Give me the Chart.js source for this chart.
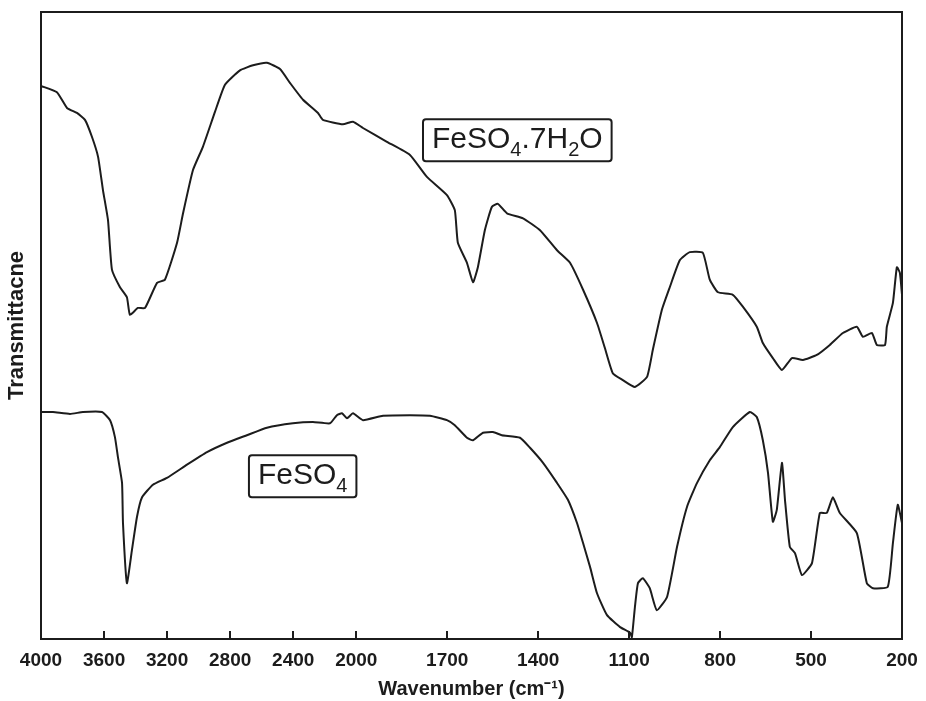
<!DOCTYPE html>
<html>
<head>
<meta charset="utf-8">
<title>FeSO4 IR</title>
<script src="https://cdn.jsdelivr.net/npm/chart.js@4.4.1/dist/chart.umd.min.js"></script>
<style>
  html, body { margin: 0; padding: 0; background: #fff; }
  canvas { display: block; }
</style>
</head>
<body>
<canvas id="irChart" width="926" height="701"></canvas>
<script>
// wavenumber (cm-1) / transmittance (arb.)
var hydrateWave = [4000, 3899, 3835, 3772, 3721, 3677, 3638, 3607, 3575, 3550, 3499, 3455, 3436, 3385, 3340, 3264, 3214, 3137, 3099, 3036,
  2973, 2896, 2833, 2738, 2655, 2567, 2484, 2421, 2338, 2243, 2212, 2085, 2021, 1978, 1899, 1823, 1767, 1701, 1675, 1665,
  1635, 1615, 1599, 1576, 1553, 1533, 1503, 1450, 1394, 1338, 1295, 1252, 1206, 1180, 1154, 1121, 1081, 1041, 1022, 992,
  966, 933, 900, 857, 834, 807, 758, 725, 679, 659, 626, 596, 563, 527, 481, 438, 395, 349, 329, 299,
  283, 256, 250, 230, 217, 207, 200];
var hydrateT = [88.2, 87.2, 84.7, 83.9, 82.8, 80.1, 76.9, 71.6, 66.8, 58.9, 56.1, 54.5, 51.7, 52.8, 52.8, 56.8, 57.3, 63.2, 67.9, 74.8,
  78.5, 84.1, 88.4, 90.7, 91.5, 91.9, 90.9, 88.7, 86.0, 83.9, 82.8, 82.1, 82.5, 81.5, 79.3, 77.2, 73.7, 70.8, 68.4, 63.2,
  60.0, 56.9, 59.3, 65.2, 68.9, 69.4, 67.9, 67.1, 65.2, 62.0, 60.0, 55.7, 50.4, 46.4, 42.4, 41.3, 40.2, 41.8, 46.1, 52.5,
  56.1, 60.4, 61.7, 61.6, 57.3, 55.3, 54.9, 53.0, 49.8, 47.2, 44.8, 42.9, 44.8, 44.5, 45.3, 46.9, 48.8, 49.8, 48.2, 48.8,
  46.9, 46.9, 49.8, 53.6, 59.3, 58.4, 54.9];

var anhydWave = [4000, 3924, 3816, 3734, 3613, 3562, 3531, 3512, 3486, 3480, 3455, 3423, 3391, 3359, 3290, 3201, 3074, 2947, 2820, 2694,
  2567, 2402, 2275, 2167, 2123, 2091, 2059, 2021, 1978, 1912, 1823, 1757, 1701, 1675, 1635, 1615, 1582, 1549, 1520, 1460,
  1427, 1384, 1338, 1302, 1272, 1252, 1229, 1206, 1173, 1130, 1097, 1091, 1081, 1071, 1055, 1032, 1009, 975, 942, 909,
  876, 834, 801, 758, 702, 679, 659, 642, 626, 613, 596, 586, 570, 553, 530, 497, 471, 448, 428, 405,
  349, 316, 296, 247, 230, 214, 200];
var anhydT = [36.2, 36.2, 35.9, 36.2, 36.2, 34.9, 32.2, 29.0, 24.9, 18.5, 8.9, 14.2, 19.5, 22.6, 24.6, 25.7, 27.8, 29.8, 31.3, 32.5,
  33.7, 34.4, 34.6, 34.4, 35.7, 36.0, 35.2, 36.0, 34.9, 35.6, 35.7, 35.6, 34.9, 34.1, 32.1, 31.7, 32.9, 33.0, 32.5, 32.1,
  30.5, 28.1, 24.9, 22.2, 18.5, 15.3, 11.5, 7.3, 3.8, 1.9, 1.0, 0.3, 5.1, 8.9, 9.7, 8.1, 4.6, 6.7, 14.7, 21.1,
  24.9, 28.5, 30.6, 33.8, 36.2, 35.4, 31.7, 26.5, 18.7, 20.6, 28.1, 22.2, 14.7, 13.7, 10.2, 12.1, 20.1, 20.1, 22.6, 20.1,
  16.9, 8.9, 8.1, 8.3, 15.3, 21.4, 18.5];

var tickLabels = [4000, 3600, 3200, 2800, 2400, 2000, 1700, 1400, 1100, 800, 500, 200];

// the x axis changes scale at 2000 cm-1 (upper part is compressed)
var SPLIT = 2000, SQUEEZE = 0.52;
function toAxis(w) { return w <= SPLIT ? w : SPLIT + (w - SPLIT) * SQUEEZE; }
function fromAxis(u) { return u <= SPLIT ? u : SPLIT + (u - SPLIT) / SQUEEZE; }

function points(waves, vals) {
    return waves.map(function (w, i) { return { x: toAxis(w), y: vals[i] }; });
}

var FONT = "'Liberation Sans', Arial, sans-serif";
var INK = '#1c1c1c';

// boxed formula labels with subscripts
function drawFormula(ctx, parts, left, top) {
    var big = '30px ' + FONT, small = '20px ' + FONT;
    var pad = 9, h = 42, w = 0;
    parts.forEach(function (p) {
        ctx.font = p[1] ? small : big;
        w += ctx.measureText(p[0]).width;
    });
    ctx.save();
    ctx.strokeStyle = INK;
    ctx.lineWidth = 2;
    ctx.beginPath();
    ctx.roundRect(left, top, w + 2 * pad, h, 3);
    ctx.stroke();
    ctx.fillStyle = INK;
    ctx.textBaseline = 'alphabetic';
    var x = left + pad;
    parts.forEach(function (p) {
        ctx.font = p[1] ? small : big;
        ctx.fillText(p[0], x, top + 29 + (p[1] ? 8 : 0));
        x += ctx.measureText(p[0]).width;
    });
    ctx.restore();
}

var labelPlugin = {
    id: 'formulaLabels',
    afterDatasetsDraw: function (chart) {
        var xs = chart.scales.x, ys = chart.scales.y, ctx = chart.ctx;
        drawFormula(ctx, [['FeSO', 0], ['4', 1], ['.7H', 0], ['2', 1], ['O', 0]],
            xs.getPixelForValue(toAxis(1780)), ys.getPixelForValue(82.9));
        drawFormula(ctx, [['FeSO', 0], ['4', 1]],
            xs.getPixelForValue(toAxis(2681)), ys.getPixelForValue(29.3));
    }
};

// closed frame round the plot
var framePlugin = {
    id: 'frame',
    afterDraw: function (chart) {
        var a = chart.chartArea, ctx = chart.ctx;
        ctx.save();
        ctx.strokeStyle = INK;
        ctx.lineWidth = 2;
        ctx.strokeRect(a.left, a.top, a.right - a.left, a.bottom - a.top);
        ctx.restore();
    }
};

Chart.defaults.font.family = FONT;
Chart.defaults.color = INK;

var ctx = document.getElementById('irChart').getContext('2d');
var chart = new Chart(ctx, {
    type: 'line',
    data: {
        datasets: [
            {
                label: 'FeSO4.7H2O',
                data: points(hydrateWave, hydrateT),
                borderColor: INK,
                borderWidth: 2,
                pointRadius: 0,
                tension: 0.15,
                clip: false
            },
            {
                label: 'FeSO4',
                data: points(anhydWave, anhydT),
                borderColor: INK,
                borderWidth: 2,
                pointRadius: 0,
                tension: 0.15,
                clip: false
            }
        ]
    },
    options: {
        responsive: false,
        animation: false,
        layout: { padding: { top: 12, right: 24, left: 0, bottom: 0 } },
        plugins: { legend: { display: false }, tooltip: { enabled: false } },
        scales: {
            x: {
                type: 'linear',
                reverse: true,
                min: toAxis(200),
                max: toAxis(4000),
                afterBuildTicks: function (scale) {
                    scale.ticks = tickLabels.map(function (v) { return { value: toAxis(v) }; });
                },
                afterFit: function (scale) {
                    scale.height = 62;
                    scale.paddingLeft = 0;
                    scale.paddingRight = 0;
                },
                grid: { drawOnChartArea: false, drawTicks: true, tickLength: -8, color: INK, lineWidth: 2 },
                border: { display: true, color: INK, width: 2 },
                ticks: {
                    padding: 18,
                    maxRotation: 0,
                    autoSkip: false,
                    font: { size: 19, weight: 'bold' },
                    callback: function (v) { return Math.round(fromAxis(v)); }
                },
                title: {
                    display: true,
                    text: 'Wavenumber (cm⁻¹)',
                    font: { size: 20, weight: 'bold' },
                    padding: { top: 0, bottom: 0 }
                }
            },
            y: {
                min: 0,
                max: 100,
                afterFit: function (scale) { scale.width = 41; },
                grid: { display: false },
                border: { display: true, color: INK, width: 2 },
                ticks: { display: false },
                title: {
                    display: true,
                    text: 'Transmittacne',
                    font: { size: 22, weight: 'bold' },
                    padding: { top: 4, bottom: 0 }
                }
            }
        }
    },
    plugins: [labelPlugin, framePlugin]
});
</script>
</body>
</html>
